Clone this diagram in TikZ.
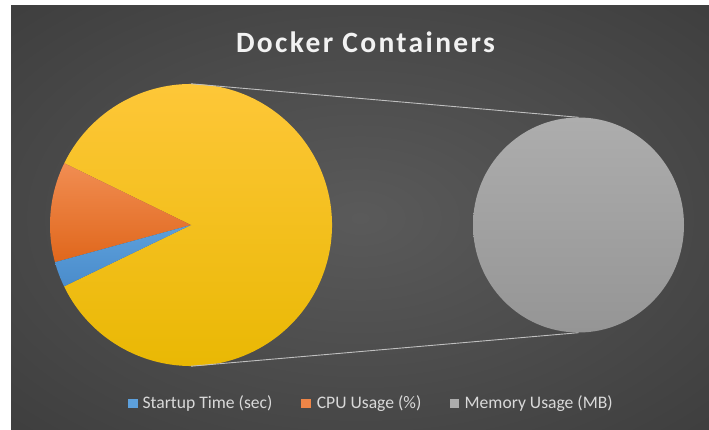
\documentclass[tikz,border=0pt]{standalone}
\usepackage{fontspec}
\setmainfont{Carlito}
\usetikzlibrary{shapes.geometric, positioning}
\definecolor{bgin}{HTML}{5A5A5A}
\definecolor{bgmid}{HTML}{3B3B3B}
\definecolor{bgout}{HTML}{272727}
\definecolor{goldtop}{HTML}{FFC83C}
\definecolor{goldbot}{HTML}{E8B700}
\definecolor{orangetop}{HTML}{F18D52}
\definecolor{orangebot}{HTML}{E0671C}
\definecolor{bluetop}{HTML}{5DA0DC}
\definecolor{bluebot}{HTML}{4A8CCB}
\definecolor{greytop}{HTML}{ADADAD}
\definecolor{greybot}{HTML}{959595}
\definecolor{labelgrey}{HTML}{D9D9D9}
\definecolor{titlewhite}{HTML}{F2F2F2}
\definecolor{linegrey}{HTML}{BFBFBF}
\pgfdeclareradialshading{chartbg}{\pgfpoint{0bp}{0bp}}{color(0bp)=(bgin); color(40bp)=(bgmid); color(72bp)=(bgout)}
\tikzset{
  legkey/.style={minimum size=9.5pt, inner sep=0pt},
  legtext/.style={text=labelgrey, font=\fontsize{17.6}{20}\selectfont, inner sep=0pt},
  connector/.style={draw=linegrey, line width=0.9pt}
}
\begin{document}
\begin{tikzpicture}[x=1pt, y=-1pt]
\useasboundingbox (0,0) rectangle (709,430);
\fill[bgout] (11,6) rectangle (715,436);
\shade[shading=chartbg] (11,6) rectangle (709,430);
\node[text=titlewhite, font=\bfseries\fontsize{29.5}{32}\selectfont\addfontfeature{LetterSpace=8}] (title) at (365.5,42) {Docker Containers};

\node[circle, minimum size=282pt, inner sep=0pt] (startpie) at (191,225) {};
\shade[top color=goldtop, bottom color=goldbot] (startpie.center) -- ++(205.8:141pt) arc[start angle=205.8, end angle=514, radius=141pt] -- cycle;
\shade[top color=orangetop, bottom color=orangebot] (startpie.center) -- ++(154:141pt) arc[start angle=154, end angle=195.3, radius=141pt] -- cycle;
\shade[top color=bluetop, bottom color=bluebot] (startpie.center) -- ++(195.3:141pt) arc[start angle=195.3, end angle=205.8, radius=141pt] -- cycle;
\node[ellipse, minimum width=211pt, minimum height=215pt, inner sep=0pt, top color=greytop, bottom color=greybot] (memorypie) at (578.5,225) {};
\draw[connector] (startpie.north) -- (memorypie.north);
\draw[connector] (startpie.south) -- (memorypie.south);

\node[legkey, fill=bluetop] (startkey) at (133,403.5) {};
\node[legtext, right=4.5pt of startkey] (starttext) {Startup Time (sec)};
\node[legkey, fill=orangetop!80!orangebot] (cpukey) at (306.2,403.5) {};
\node[legtext, right=5.5pt of cpukey] (cputext) {CPU Usage (\%)};
\node[legkey, fill=greytop] (memkey) at (454.5,403.5) {};
\node[legtext, right=5pt of memkey] (memtext) {Memory Usage (MB)};
\end{tikzpicture}
\end{document}
